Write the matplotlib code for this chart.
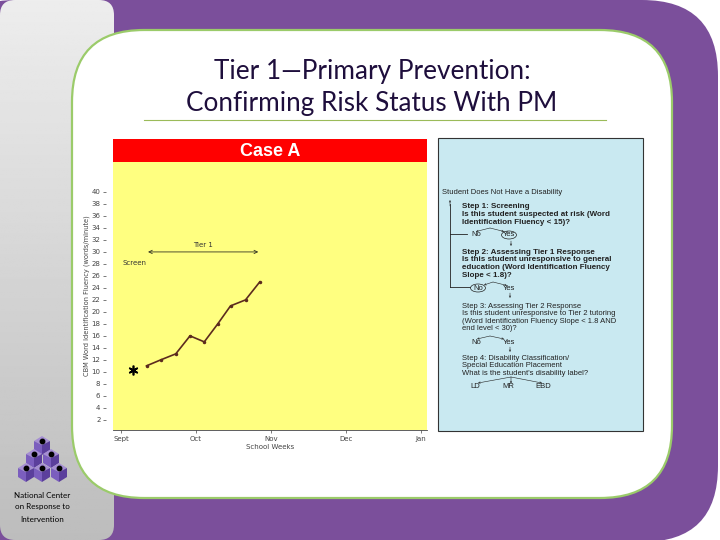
import numpy as np
import matplotlib
matplotlib.use("Agg")
import matplotlib.pyplot as plt
from matplotlib.patches import FancyBboxPatch, Rectangle, Ellipse, Polygon

# ---- chart data (Case A) ----
month_labels = ["Sept", "Oct", "Nov", "Dec", "Jan"]
y_ticks = list(range(2, 41, 2))
week_pos = [0.34, 0.53, 0.73, 0.92, 1.11, 1.29, 1.46, 1.66, 1.85]   # months after Sept
fluency = [11, 12, 13, 16, 15, 18, 21, 22, 25]
screen_pos, screen_val = 0.16, 10.3
tier1_span = (0.36, 1.83)
tier1_level = 30

# ---- flowchart text ----
flow_top = ["Student Does Not Have a Disability"]
step1 = ["Step 1: Screening",
         "Is this student suspected at risk (Word",
         "Identification Fluency < 15)?"]
step2 = ["Step 2: Assessing Tier 1 Response",
         "Is this student unresponsive to general",
         "education (Word Identification Fluency",
         "Slope < 1.8)?"]
step3 = ["Step 3: Assessing Tier 2 Response",
         "Is this student unresponsive to Tier 2 tutoring",
         "(Word Identification Fluency Slope < 1.8 AND",
         "end level < 30)?"]
step4 = ["Step 4: Disability Classification/",
         "Special Education Placement",
         "What is the student's disability label?"]
labels4 = ["LD", "MR", "EBD"]

W, H = 720, 540
fig = plt.figure(figsize=(7.2, 5.4), dpi=100)
bg = fig.add_axes([0, 0, 1, 1])
bg.set_xlim(0, W)
bg.set_ylim(H, 0)
bg.axis("off")

def rbox(x, y, w, h, r, **kw):
    p = FancyBboxPatch((x, y), w, h, boxstyle=f"round,pad=0,rounding_size={r}", **kw)
    bg.add_patch(p)
    return p

# slide background
rbox(-60, 0, 778, 542, 76, facecolor="#7B4F9B", edgecolor="none", zorder=1)
grey = rbox(0, 0, 114, 540, 15, facecolor="none", edgecolor="none", zorder=2)
grad = np.linspace(0.93, 0.74, 256).reshape(-1, 1)
im = bg.imshow(grad, cmap="gray", vmin=0, vmax=1, extent=(0, 114, 540, 0), aspect="auto",
               zorder=2)
im.set_clip_path(grey)
rbox(72, 30, 600, 468, 72, facecolor="white", edgecolor="#9BCB6A", linewidth=1.6, zorder=3)

# title
title_kw = dict(family="Lato", fontsize=18.8, color="#1E0E3C", ha="center", va="center", zorder=4)
bg.text(372, 72, "Tier 1\u2014Primary Prevention:", **title_kw)
bg.text(372, 103, "Confirming Risk Status With PM", **title_kw)
bg.plot([144, 606], [120, 120], color="#9BBB59", lw=0.8, zorder=4)

# logo: pyramid of cubes
cube_rows = [[(42, 441)], [(34, 454), (51, 454)], [(26, 468), (42, 468), (59, 468)]]
for row in cube_rows:
    for dx, dy in row:
        cx, cy = dx, dy + 4
        top = [(cx, cy - 9), (cx + 8, cy - 4), (cx, cy), (cx - 8, cy - 4)]
        left = [(cx - 8, cy - 4), (cx, cy), (cx, cy + 10), (cx - 8, cy + 5)]
        right = [(cx, cy), (cx + 8, cy - 4), (cx + 8, cy + 5), (cx, cy + 10)]
        bg.add_patch(Polygon(top, closed=True, fc="#A58ED3", ec="none", zorder=4))
        bg.add_patch(Polygon(left, closed=True, fc="#7B5EBE", ec="none", zorder=4))
        bg.add_patch(Polygon(right, closed=True, fc="#5B3F9C", ec="none", zorder=4))
        bg.plot(dx, dy, "o", color="black", ms=3.2, zorder=5)
for i, line in enumerate(["National Center", "on Response to", "Intervention"]):
    bg.text(42, 495 + 12 * i, line, family="Lato", fontsize=5.8, ha="center", va="center",
            color="black", zorder=5)

# red header
bg.add_patch(Rectangle((113, 138.5), 314, 24, facecolor="#FF0000", edgecolor="none", zorder=4))
bg.text(270, 151, "Case A", family="Liberation Sans", fontweight="bold", fontsize=13,
        color="white", ha="center", va="center", zorder=5)

# ---- chart ----
ax = fig.add_axes([113 / W, 1 - 430 / H, 314 / W, 268 / H])
ax.set_facecolor("#FFFF80")
ax.plot(week_pos, fluency, color="#5C2B1E", lw=1.2, marker="o", ms=1.5)
ax.plot(screen_pos, screen_val, marker=(6, 2, 0), color="black", ms=7, mew=1.2)
ax.annotate("", xy=(tier1_span[0], tier1_level), xytext=(tier1_span[1], tier1_level),
            arrowprops=dict(arrowstyle="<->", color="#333322", lw=0.6, shrinkA=0, shrinkB=0,
                            mutation_scale=6))
ax.text(sum(tier1_span) / 2, tier1_level + 0.6, "Tier 1", fontsize=5, ha="center",
        va="bottom", color="#333")
ax.text(0.02, 28.2, "Screen", fontsize=5, ha="left", va="center", color="#333")
ax.set_xlim(-0.107, 4.08)
ax.set_ylim(0.3, 45)
ax.set_xticks(range(len(month_labels)))
ax.set_xticklabels(month_labels)
ax.set_yticks(y_ticks)
ax.tick_params(labelsize=5, colors="#444", length=2.5, width=0.5, pad=1.5)
for s in ["top", "right"]:
    ax.spines[s].set_visible(False)
ax.spines["left"].set_position(("outward", 5))
ax.spines["left"].set_color("none")
ax.spines["bottom"].set_color("#444")
ax.spines["bottom"].set_linewidth(0.6)
ax.set_xlabel("School Weeks", fontsize=5, color="#444", labelpad=2)
ax.set_ylabel("CBM Word Identification Fluency (words/minute)", fontsize=4.8,
              color="#444", labelpad=1)

# ---- flowchart panel ----
bg.add_patch(Rectangle((438, 138), 205, 293, facecolor="#C9E9F1", edgecolor="#333", lw=0.8,
                       zorder=4))
fkw = dict(family="Liberation Sans", fontsize=5.5, color="#222", va="center", zorder=5)
bg.text(442, 192, flow_top[0], **fkw)

def block(lines, y0, bold):
    for i, t in enumerate(lines):
        if bold:
            bg.text(462, y0 + 7.8 * i, t, fontweight="bold",
                    **{**fkw, "fontsize": 5.8})
        else:
            bg.text(462, y0 + 7.6 * i, t, **fkw)

block(step1, 207, True)
block(step2, 252, True)
block(step3, 306, False)
block(step4, 358, False)

ckw = dict(family="Liberation Sans", fontsize=5.5, color="#222", va="center", ha="center",
           zorder=5)
for y, xn, xy in [(234, 476, 509), (288, 478, 509), (342, 476, 509)]:
    bg.text(xn, y, "No", **ckw)
    bg.text(xy, y, "Yes", **ckw)
for x, t in zip([475, 508, 543], labels4):
    bg.text(x, 387, t, **ckw)
bg.add_patch(Ellipse((509, 235), 15, 8, fill=False, ec="#222", lw=0.5, zorder=5))
bg.add_patch(Ellipse((478, 288), 15, 8, fill=False, ec="#222", lw=0.5, zorder=5))

akw = dict(arrowstyle="->", color="#222", lw=0.4, mutation_scale=3, shrinkA=0, shrinkB=0)
def arr(x0, y0, x1, y1):
    bg.annotate("", xy=(x1, y1), xytext=(x0, y0), arrowprops=akw, zorder=5)

for apex, ends in [((490, 228), [(476, 231.5), (504, 231.5)]),
                   ((493, 282), [(484, 285), (507, 285.5)]),
                   ((490, 336), [(477, 339), (504, 339)]),
                   ((511, 377), [(478, 383), (511, 383.5), (542, 383)])]:
    for e in ends:
        arr(apex[0], apex[1], e[0], e[1])
for x, y in [(511, 241), (510, 293), (510, 347)]:
    arr(x, y, x, y + 5)

# return bracket
bg.plot([450, 450], [287, 204], color="#222", lw=0.6, zorder=5)
arr(450, 206, 450, 200)
bg.plot([450, 467], [234, 234], color="#222", lw=0.6, zorder=5)
bg.plot([450, 470], [287, 287], color="#222", lw=0.6, zorder=5)

fig.savefig("out.png", dpi=100)
